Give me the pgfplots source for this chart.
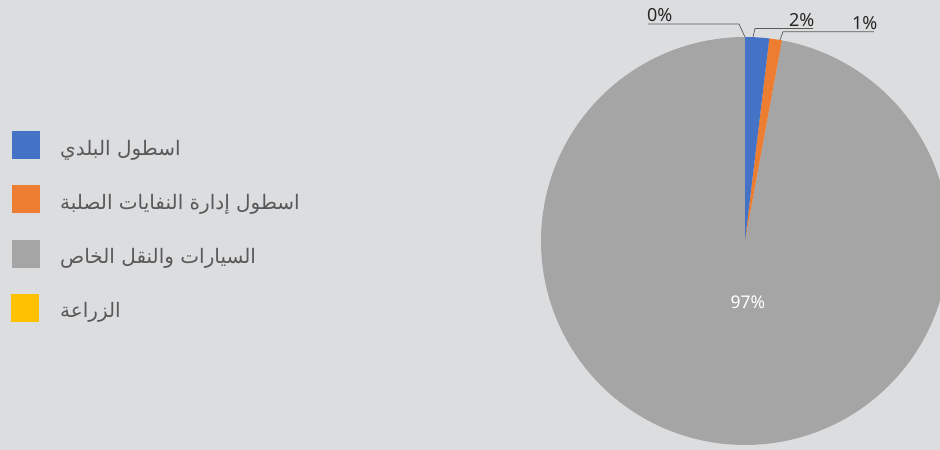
\documentclass[border=0pt]{standalone}
\usepackage{pgfplots}
\usepackage{pgfplotstable}
\pgfplotsset{compat=1.18}
\usepackage{fontspec}
\setmainfont{Noto Sans}
\newfontfamily\arabicfont[Script=Arabic]{DejaVu Sans}
\TeXXeTstate=1
\definecolor{bgc}{HTML}{DCDDDF}
\definecolor{cblue}{HTML}{4472C4}
\definecolor{corange}{HTML}{ED7D31}
\definecolor{cgray}{HTML}{A5A5A5}
\definecolor{cyellow}{HTML}{FFC000}
\definecolor{txt}{HTML}{595959}
\definecolor{lbl}{HTML}{262626}
\definecolor{lead}{HTML}{595959}

\pgfplotstableread{
label value
blue 1.9
orange 1.0
gray 97.1
yellow 0.0
}\piedata

\begin{document}%
\begin{tikzpicture}
\pgfplotstablegetelem{0}{value}\of\piedata \let\vA\pgfplotsretval
\pgfplotstablegetelem{1}{value}\of\piedata \let\vB\pgfplotsretval
\pgfplotstablegetelem{2}{value}\of\piedata \let\vC\pgfplotsretval
\pgfmathsetmacro{\aZ}{90}
\pgfmathsetmacro{\aA}{90-\vA*3.6}
\pgfmathsetmacro{\aB}{\aA-\vB*3.6}
\pgfmathsetmacro{\aC}{\aB-\vC*3.6}
\fill[bgc] (0,0) rectangle (940bp,450bp);
\begin{axis}[
  at={(0,0)}, anchor=south west,
  scale only axis, width=940bp, height=450bp,
  xmin=0, xmax=940, ymin=0, ymax=450,
  axis lines=none, ticks=none,
  clip=true,
]
\def\cx{745}\def\cy{209}\def\R{204}
% slices
\addplot[fill=cgray, draw=none, domain=\aC:\aB, samples=240, variable=\t]
  ({\cx+\R*cos(\t)},{\cy+\R*sin(\t)}) -- (axis cs:\cx,\cy) -- cycle;
\addplot[fill=corange, draw=none, domain=\aB:\aA, samples=10, variable=\t]
  ({\cx+\R*cos(\t)},{\cy+\R*sin(\t)}) -- (axis cs:\cx,\cy) -- cycle;
\addplot[fill=cblue, draw=none, domain=\aA:\aZ, samples=10, variable=\t]
  ({\cx+\R*cos(\t)},{\cy+\R*sin(\t)}) -- (axis cs:\cx,\cy) -- cycle;

% leader lines
\draw[lead, line width=0.7bp] (axis cs:648,426) -- (axis cs:739,426) -- (axis cs:745,413);
\draw[lead, line width=0.7bp] (axis cs:813,421.5) -- (axis cs:755,421.5) -- (axis cs:753,413);
\draw[lead, line width=0.7bp] (axis cs:874,418.3) -- (axis cs:783,418.3) -- (axis cs:780,410);
% data labels
\node[anchor=base west, inner sep=0, text=lbl, font=\fontsize{18bp}{20bp}\selectfont] at (axis cs:647,428) {0\%};
\node[anchor=base west, inner sep=0, text=lbl, font=\fontsize{18bp}{20bp}\selectfont] at (axis cs:789,423) {2\%};
\node[anchor=base west, inner sep=0, text=lbl, font=\fontsize{18bp}{20bp}\selectfont] at (axis cs:852,420) {1\%};
\node[text=white, font=\fontsize{17.5bp}{20bp}\selectfont] at (axis cs:748,148) {97\%};

% legend
\fill[cblue]   (axis cs:12,291) rectangle (axis cs:40,319);
\fill[corange] (axis cs:12,237) rectangle (axis cs:40,265);
\fill[cgray]   (axis cs:12,182) rectangle (axis cs:40,210);
\fill[cyellow] (axis cs:11,128) rectangle (axis cs:39,156);
\node[anchor=base west, inner sep=0, text=txt, font=\fontsize{20bp}{22bp}\selectfont] at (axis cs:60,295) {\arabicfont\beginR اسطول البلدي\endR};
\node[anchor=base west, inner sep=0, text=txt, font=\fontsize{20bp}{22bp}\selectfont] at (axis cs:60,241) {\arabicfont\beginR اسطول إدارة النفايات الصلبة\endR};
\node[anchor=base west, inner sep=0, text=txt, font=\fontsize{20bp}{22bp}\selectfont] at (axis cs:60,187) {\arabicfont\beginR السيارات والنقل الخاص\endR};
\node[anchor=base west, inner sep=0, text=txt, font=\fontsize{20bp}{22bp}\selectfont] at (axis cs:60,133) {\arabicfont\beginR الزراعة\endR};
\end{axis}
\end{tikzpicture}%
\end{document}
